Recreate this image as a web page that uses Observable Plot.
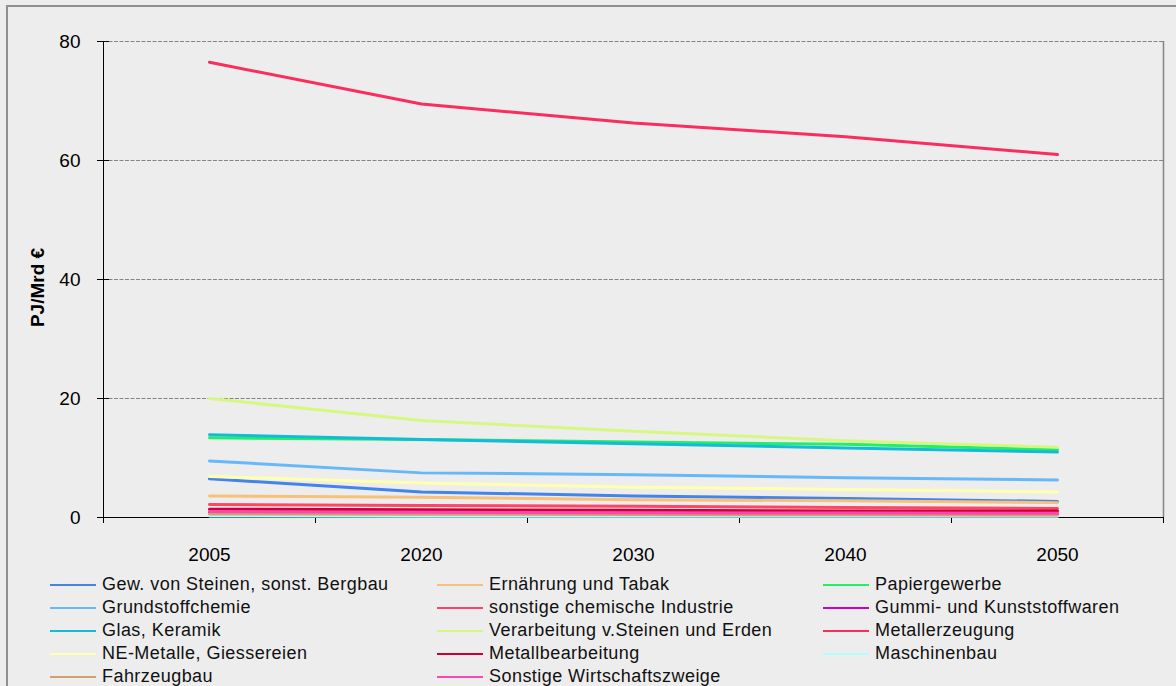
<!DOCTYPE html>
<html>
<head>
<meta charset="utf-8">
<script src="https://cdn.jsdelivr.net/npm/d3@7"></script>
<script src="https://cdn.jsdelivr.net/npm/@observablehq/plot@0.6"></script>
<style>
  html, body { margin: 0; padding: 0; background: #ededed; }
  body { width: 1176px; height: 686px; overflow: hidden; position: relative;
         font-family: "Liberation Sans", Arial, sans-serif; }
  #frame { position: absolute; left: 6px; top: 5px; width: 1180px; height: 700px;
           border: 2px solid #8f8f8f; box-sizing: border-box; pointer-events: none; }
  #chart { position: absolute; left: 0; top: 0; }
  #legend { position: absolute; left: 50px; top: 573px; display: grid;
            grid-template-columns: 387px 386px 340px; grid-auto-rows: 23px; }
  .item { display: flex; align-items: center; font-size: 18px; letter-spacing: 0.45px;
          color: #111; white-space: nowrap; }
  .sw { width: 46px; height: 2px; margin-right: 6px; flex: none; }
</style>
</head>
<body>
<div id="frame"></div>
<div id="chart"></div>
<div id="legend"></div>
<script>
// Energy intensity by industry branch, PJ per billion euro
const years = ["2005", "2020", "2030", "2040", "2050"];

const series = [
  "Gew. von Steinen, sonst. Bergbau", "Ernährung und Tabak", "Papiergewerbe",
  "Grundstoffchemie", "sonstige chemische Industrie", "Gummi- und Kunststoffwaren",
  "Glas, Keramik", "Verarbeitung v.Steinen und Erden", "Metallerzeugung",
  "NE-Metalle, Giessereien", "Metallbearbeitung", "Maschinenbau",
  "Fahrzeugbau", "Sonstige Wirtschaftszweige"
];

const colors = [
  "#4283ec", "#f8c078", "#22ee66",
  "#66b8f8", "#ff4466", "#cc00cc",
  "#12bcd8", "#d6f882", "#fa2d5e",
  "#ffffb0", "#cc0033", "#b0ffff",
  "#d0a070", "#ff44b4"
];

const gewSteine        = [6.5, 4.3, 3.6, 3.2, 2.7];
const ernaehrung       = [3.6, 3.4, 3.0, 2.8, 2.5];
const papier           = [13.4, 13.1, 12.7, 12.3, 11.4];
const grundstoffchemie = [9.5, 7.5, 7.2, 6.7, 6.3];
const sonstChemie      = [2.2, 2.0, 1.9, 1.7, 1.5];
const gummi            = [0.9, 0.8, 0.8, 0.7, 0.6];
const glasKeramik      = [13.9, 13.1, 12.4, 11.7, 11.0];
const steineErden      = [20.0, 16.3, 14.5, 12.9, 11.8];
const metallerzeugung  = [76.5, 69.5, 66.3, 64.0, 61.0];
const neMetalle        = [6.9, 5.8, 5.1, 4.7, 4.3];
const metallbearb      = [1.4, 1.3, 1.2, 1.1, 1.1];
const maschinenbau     = [0.25, 0.2, 0.2, 0.2, 0.2];
const fahrzeugbau      = [0.6, 0.55, 0.5, 0.45, 0.4];
const sonstigeWZ       = [1.0, 0.9, 0.8, 0.75, 0.7];

const values = [
  gewSteine, ernaehrung, papier,
  grundstoffchemie, sonstChemie, gummi,
  glasKeramik, steineErden, metallerzeugung,
  neMetalle, metallbearb, maschinenbau,
  fahrzeugbau, sonstigeWZ
];

const yTicks = [0, 20, 40, 60, 80];

// long table: one row per series and year
const rows = series.flatMap((name, s) =>
  values[s].map((v, i) => ({series: name, i, v})));

const chart = Plot.plot({
  width: 1176,
  height: 560,
  marginLeft: 103,
  marginRight: 13,
  marginTop: 41,
  marginBottom: 43,
  style: {background: "transparent", fontFamily: "'Liberation Sans', Arial, sans-serif",
          fontSize: "19px", color: "#000", overflow: "visible"},
  x: {domain: [-0.5, years.length - 0.5]},
  y: {domain: [0, 80]},
  color: {domain: series, range: colors},
  marks: [
    Plot.ruleY(yTicks.filter(d => d > 0), {stroke: "#858585", strokeDasharray: "4,1.5", strokeWidth: 1.2}),
    Plot.ruleX([years.length - 0.5], {y1: 0, y2: 80, stroke: "#858585", strokeWidth: 1.5}),
    Plot.axisY({ticks: yTicks, tickSize: 6, tickPadding: 17, label: null, stroke: "#000", strokeOpacity: 1}),
    Plot.axisY({ticks: yTicks, tickSize: -6, tickFormat: () => "", label: null, stroke: "#000", strokeOpacity: 1}),
    Plot.axisX({ticks: d3.range(years.length + 1).map(k => k - 0.5), tickSize: 6,
                tickFormat: () => "", label: null, stroke: "#000", strokeOpacity: 1}),
    Plot.axisX({ticks: d3.range(years.length), tickSize: 0, tickPadding: 30,
                tickFormat: i => years[i], label: null}),
    Plot.ruleX([-0.5], {stroke: "#000"}),
    Plot.ruleY([0], {stroke: "#000"}),
    Plot.line(rows, {x: "i", y: "v", z: "series", stroke: "series", strokeWidth: 3}),
    Plot.text(["PJ/Mrd €"], {frameAnchor: "left", dx: -66, dy: 8, rotate: -90, textAnchor: "middle",
                             fontWeight: "bold", fontSize: 19, fill: "#000"})
  ]
});
document.getElementById("chart").appendChild(chart);

// legend: three columns, row by row
const legend = document.getElementById("legend");
series.forEach((name, s) => {
  const item = document.createElement("div");
  item.className = "item";
  const sw = document.createElement("span");
  sw.className = "sw";
  sw.style.background = colors[s];
  const label = document.createElement("span");
  label.textContent = name;
  item.appendChild(sw);
  item.appendChild(label);
  legend.appendChild(item);
});
</script>
</body>
</html>
